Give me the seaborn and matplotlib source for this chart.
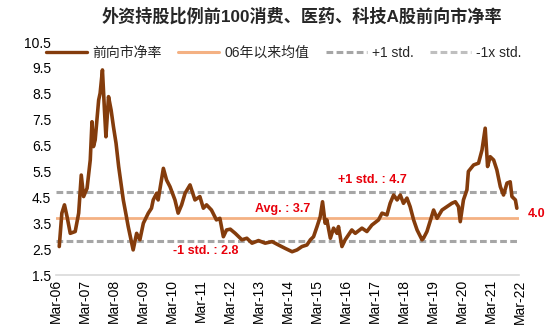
import numpy as np
import pandas as pd
import matplotlib
matplotlib.use("Agg")
import matplotlib.pyplot as plt
import seaborn as sns
from matplotlib.lines import Line2D

# ---- data (decimal year, forward P/B) ----
years = [2006.29, 2006.38, 2006.47, 2006.56, 2006.67, 2006.84, 2006.96, 2007.05, 2007.13, 2007.25,
         2007.36, 2007.42, 2007.47, 2007.53, 2007.65, 2007.70, 2007.78, 2007.85, 2007.90, 2007.99,
         2008.08, 2008.16, 2008.25, 2008.34, 2008.50, 2008.60, 2008.67, 2008.84, 2008.96, 2009.07,
         2009.19, 2009.36, 2009.47, 2009.53, 2009.65, 2009.70, 2009.88, 2009.99, 2010.11, 2010.28,
         2010.39, 2010.51, 2010.63, 2010.80, 2010.97, 2011.14, 2011.26, 2011.37, 2011.54, 2011.71,
         2011.83, 2011.95, 2012.06, 2012.19, 2012.36, 2012.59, 2012.76, 2012.94, 2013.16, 2013.39,
         2013.63, 2013.85, 2014.08, 2014.32, 2014.49, 2014.66, 2014.83, 2014.95, 2015.06, 2015.18,
         2015.29, 2015.37, 2015.46, 2015.52, 2015.64, 2015.75, 2015.87, 2015.92, 2016.04, 2016.15,
         2016.38, 2016.50, 2016.73, 2016.90, 2017.07, 2017.30, 2017.42, 2017.59, 2017.70, 2017.82,
         2017.94, 2018.05, 2018.16, 2018.28, 2018.39, 2018.51, 2018.63, 2018.80, 2018.85, 2018.97,
         2019.20, 2019.32, 2019.49, 2019.66, 2019.83, 2019.95, 2020.06, 2020.12, 2020.23, 2020.35,
         2020.40, 2020.58, 2020.75, 2020.87, 2020.98, 2021.06, 2021.15, 2021.27, 2021.38, 2021.50,
         2021.61, 2021.73, 2021.84, 2021.90, 2022.02, 2022.07]
pb = [2.60, 3.89, 4.21, 3.75, 3.11, 3.18, 3.89, 5.36, 4.53, 4.85,
      5.94, 7.42, 6.46, 6.72, 8.26, 8.52, 9.42, 7.87, 6.84, 8.39,
      7.87, 7.23, 6.59, 5.69, 4.40, 3.80, 3.37, 2.47, 3.11, 2.86,
      3.50, 3.89, 4.08, 4.40, 4.66, 4.40, 5.62, 5.17, 4.91, 4.40,
      3.89, 4.21, 4.66, 4.98, 4.40, 4.53, 4.08, 4.21, 4.01, 3.63,
      3.69, 2.98, 3.24, 3.27, 3.11, 2.86, 2.92, 2.73, 2.83, 2.73,
      2.79, 2.66, 2.53, 2.40, 2.47, 2.60, 2.66, 2.86, 2.98, 3.37,
      3.75, 4.33, 3.50, 3.63, 2.92, 3.31, 3.11, 3.37, 2.60, 2.86,
      3.24, 3.11, 3.31, 3.18, 3.43, 3.63, 3.89, 3.82, 4.27, 4.59,
      4.40, 4.59, 4.27, 4.47, 4.14, 3.63, 3.24, 2.86, 2.92, 3.18,
      4.01, 3.69, 4.01, 4.14, 4.27, 4.33, 4.14, 3.56, 4.40, 4.79,
      5.50, 5.75, 5.82, 6.33, 7.17, 5.69, 6.07, 5.94, 5.56, 4.91,
      4.59, 5.05, 5.10, 4.53, 4.40, 4.08]

avg_val = 3.7
plus_std = 4.7
minus_std = 2.8
last_val = 4.0

series_label = "前向市净率"
avg_label = "06年以来均值"
plus_label = "+1 std."
minus_label = "-1x std."
title = "外资持股比例前100消费、医药、科技A股前向市净率"

tick_years = list(range(2006, 2023))
tick_labels = [f"Mar-{y % 100:02d}" for y in tick_years]

def to_date(t):
    y = int(np.floor(t))
    return pd.Timestamp(f"{y}-01-01") + pd.to_timedelta((t - y) * 365.25, unit="D")

df = pd.DataFrame({"date": [to_date(t) for t in years], "pb": pb})

sns.set_theme(style="white")
plt.rcParams["font.family"] = ["Liberation Sans", "Noto Sans CJK SC", "DejaVu Sans"]
plt.rcParams["axes.unicode_minus"] = False

fig = plt.figure(figsize=(5.58, 3.36), dpi=100)
ax = fig.add_axes([0.0995, 0.1815, 0.8315, 0.6935])

brown = "#843C0C"
orange = "#F4B183"
gray1 = "#A6A6A6"
gray2 = "#BFBFBF"
red = "#E8000B"
dash = (0, (2.2, 1.1))

ax.axhline(plus_std, color=gray1, lw=2.2, ls=dash, zorder=1)
ax.axhline(minus_std, color=gray1, lw=2.2, ls=dash, zorder=1)
ax.axhline(avg_val, color=orange, lw=2.0, zorder=2)
sns.lineplot(data=df, x="date", y="pb", ax=ax, color=brown, lw=2.6, zorder=3, legend=False)

xmin = pd.Timestamp("2006-03-01")
xmax = pd.Timestamp("2022-03-01")
ax.set_xlim(xmin, xmax)
ax.set_ylim(1.5, 10.5)
yt = np.arange(1.5, 10.6, 1.0)
ax.set_yticks(yt)
ax.set_yticklabels([f"{v:.1f}" for v in yt], fontsize=10, color="#000000")
ax.set_xticks([pd.Timestamp(f"{y}-03-01") for y in tick_years])
ax.set_xticklabels(tick_labels, rotation=90, fontsize=10, color="#000000")
ax.tick_params(axis="both", length=0, pad=3)
ax.set_xlabel("")
ax.set_ylabel("")
for s in ["top", "right", "left"]:
    ax.spines[s].set_visible(False)
ax.spines["bottom"].set_color("#D9D9D9")
ax.spines["bottom"].set_linewidth(1.2)
ax.grid(False)

ax.text(to_date(2017.08), 5.17, f"+1 std. : {plus_std}", color=red, fontsize=9,
        fontweight="bold", ha="center", va="center")
ax.text(to_date(2013.98), 4.05, f"Avg. : {avg_val}", color=red, fontsize=9,
        fontweight="bold", ha="center", va="center")
ax.text(to_date(2011.33), 2.43, f"-1 std. : {minus_std}", color=red, fontsize=9,
        fontweight="bold", ha="center", va="center")
ax.text(to_date(2022.74), 3.86, f"{last_val}", color=red, fontsize=9,
        fontweight="bold", ha="center", va="center", clip_on=False)

fig.text(0.541, 0.952, title, ha="center", va="center", fontsize=12.3, fontweight="bold")

handles = [Line2D([], [], color=brown, lw=2.4),
           Line2D([], [], color=orange, lw=2.2),
           Line2D([], [], color=gray1, lw=2.2, ls=dash),
           Line2D([], [], color=gray2, lw=2.2, ls=dash)]
fig.legend(handles, [series_label, avg_label, plus_label, minus_label], loc="center",
           bbox_to_anchor=(0.509, 0.842), ncol=4, frameon=False, fontsize=10,
           handlelength=2.95, handletextpad=0.36, columnspacing=1.2)

fig.savefig("out.png", dpi=100)
